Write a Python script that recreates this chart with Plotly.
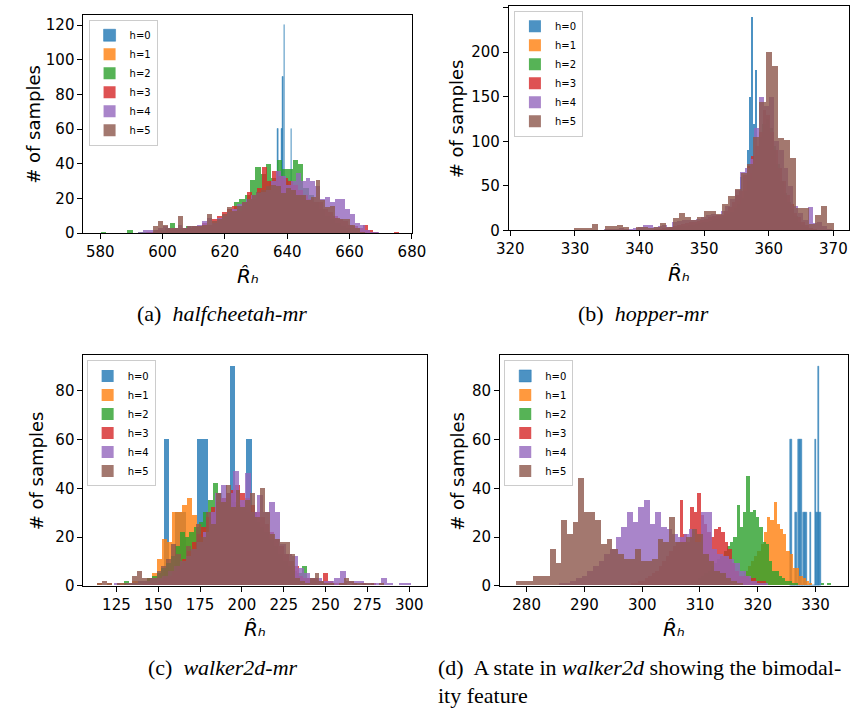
import plotly.graph_objects as go

LABELS = ["h=0", "h=1", "h=2", "h=3", "h=4", "h=5"]
COLORS = ["#1f77b4", "#ff7f0e", "#2ca02c", "#d62728", "#9467bd", "#8c564b"]

# ---------------- (a) halfcheetah-mr : bin start, bin width, counts per horizon ----------------
A_STARTS = [629.5, 600.0, 580.3, 594.9, 592.3, 597.07]
A_WIDTHS = [0.25, 1.5, 1.71, 1.62, 1.58, 1.58]
A_H0 = [0] * 20 + [30, 0, 0, 0, 0, 30, 0, 0, 0, 0, 60, 0, 0, 0, 0, 60, 90, 0, 120, 0,
                   0, 0, 30, 0, 0, 0, 0, 60, 0, 0]
A_H1 = [1, 1, 2, 2, 3, 2, 3, 3, 4, 4, 5, 6, 7, 9, 11, 12, 14, 16, 18, 20, 21, 22, 23, 24, 23,
        22, 21, 20, 19, 18, 16, 14, 12, 10, 8, 7, 5, 4, 3, 2, 1, 1]
A_H2 = [1, 0, 0, 0, 0, 2, 0, 1, 1, 1, 2, 2, 3, 6, 3, 3, 4, 3, 4, 5, 5, 6, 8, 10, 12,
        18, 20, 22, 31, 38, 34, 40, 32, 42, 37, 37, 42, 40, 26, 22, 18, 14, 10, 8, 6, 4, 3, 2, 1, 1]
A_H3 = [1, 1, 2, 1, 2, 3, 2, 3, 3, 4, 4, 6, 5, 8, 10, 12, 14, 16, 13, 18, 24, 20, 26, 38, 30,
        36, 33, 32, 30, 28, 25, 22, 20, 18, 18, 14, 12, 10, 8, 7, 5, 4, 3, 5, 2, 1, 0, 0, 0, 1]
A_H4 = [1, 2, 2, 2, 3, 4, 3, 3, 5, 3, 4, 4, 5, 7, 9, 6, 9, 10, 12, 14, 17, 18, 20, 22, 23,
        24, 25, 30, 36, 33, 28, 30, 35, 30, 32, 30, 27, 20, 21, 18, 20, 20, 14, 11, 6, 5, 2, 1, 1]
A_H5 = [4, 7, 5, 3, 3, 10, 3, 4, 4, 4, 5, 11, 7, 8, 11, 15, 13, 16, 18, 20, 22, 24, 25, 27, 28,
        27, 23, 26, 25, 22, 22, 19, 21, 31, 19, 15, 16, 9, 8, 8, 5, 3, 1]

# ---------------- (b) hopper-mr ----------------
B_STARTS = [355.45, 345.0, 343.0, 341.0, 333.0, 322.1]
B_WIDTHS = [0.3, 0.5, 0.55, 0.6, 0.75, 0.958]
B_H0 = [60, 30, 30, 30, 90, 150, 240, 120, 180]
B_H1 = [2, 3, 3, 4, 5, 5, 6, 7, 8, 9, 10, 11, 12, 13, 14, 16, 18, 20, 24, 28, 33, 38, 45, 55, 65,
        80, 95, 110, 120, 115, 105, 90, 70, 55, 45, 35, 25, 18, 12, 8, 5, 3, 2, 1]
B_H2 = [1, 2, 2, 3, 3, 4, 5, 5, 6, 6, 7, 8, 9, 10, 11, 12, 13, 14, 16, 18, 21, 25, 30, 36, 44,
        55, 68, 85, 105, 120, 125, 115, 95, 75, 55, 42, 32, 24, 16, 10, 6, 4, 2, 1]
B_H3 = [1, 1, 2, 2, 3, 3, 4, 5, 6, 7, 8, 9, 10, 11, 12, 13, 15, 16, 17, 17, 22, 26, 32, 40, 44,
        62, 72, 84, 95, 110, 135, 130, 110, 90, 70, 55, 40, 30, 20, 15, 10, 6, 3, 2, 1]
B_H4 = [1, 1, 2, 2, 2, 3, 2, 2, 3, 4, 6, 6, 4, 5, 6, 4, 9, 11, 12, 12, 12, 13, 15, 17, 18,
        17, 22, 28, 35, 45, 66, 70, 80, 115, 150, 140, 150, 100, 90, 70, 50, 28, 20, 12, 26, 8, 10, 5, 2]
B_H5 = [1, 0, 0, 0, 0, 0, 0, 0, 3, 3, 3, 7, 1, 5, 5, 6, 4, 1, 4, 4, 3, 4, 8, 4, 14,
        20, 15, 12, 15, 22, 22, 18, 30, 39, 46, 64, 75, 105, 144, 200, 185, 104, 102, 81, 25, 25, 7, 17, 27, 8]

# ---------------- (c) walker2d-mr ----------------
C_STARTS = [153.6, 113.5, 124.1, 141.3, 124.0, 110.9]
C_WIDTHS = [3.28, 3.0, 2.8, 2.9, 3.546, 2.95]
C_H0 = [60, 0, 30, 30, 0, 0, 60, 60, 0, 30, 30, 0, 90, 30, 0, 60, 30]
C_H1 = [1, 0, 1, 0, 1, 1, 1, 2, 2, 2, 3, 5, 11, 19, 18, 30, 30, 33, 36, 29,
        25, 23, 22, 20, 18, 17, 16, 14, 13, 12, 10, 9, 8, 6, 5, 4, 3, 2, 2, 1]
C_H2 = [0, 0, 2, 1, 1, 2, 2, 3, 4, 5, 7, 9, 12, 16, 22, 20, 22, 24, 26, 30, 35, 42, 38, 36, 35,
        34, 33, 32, 30, 28, 26, 24, 22, 19, 16, 13, 10, 8, 6, 5, 8, 3, 2, 1, 1, 0, 1]
C_H3 = [1, 1, 1, 2, 3, 4, 6, 8, 11, 14, 18, 21, 24, 28, 32, 34, 36, 38, 39, 41, 38, 36, 33, 30, 28,
        25, 22, 19, 16, 13, 10, 8, 4, 3, 3, 3, 2, 5, 2, 1, 1, 1, 0, 1, 0, 1, 0, 1]
C_H4 = [1, 0, 1, 1, 2, 2, 3, 3, 4, 6, 8, 10, 12, 15, 18, 22, 30, 38, 41, 38, 47, 35, 46, 30, 37,
        30, 34, 30, 17, 13, 12, 7, 5, 3, 3, 2, 2, 3, 6, 2, 2, 2, 1, 1, 1, 3, 1, 0, 1, 1]
C_H5 = [0, 1, 2, 1, 0, 1, 1, 1, 4, 6, 3, 3, 3, 6, 8, 11, 17, 13, 10, 16, 15, 25, 20, 30, 25,
        38, 34, 41, 32, 39, 32, 35, 38, 28, 40, 30, 21, 19, 18, 18, 13, 3, 2, 1, 3, 5, 2, 1, 1, 0,
        1, 3, 2, 1, 1, 1, 1, 0, 1]

# ---------------- (d) a walker2d state (bimodality) ----------------
D_STARTS = [325.65, 314.9, 307.4, 298.1, 285.6, 278.2]
D_WIDTHS = [0.28, 0.56, 0.56, 0.6, 0.98, 0.98]
D_H0 = [60, 0, 0, 30, 0, 60, 60, 0, 30, 30, 0, 0, 30, 0, 0, 60, 30, 90, 30]
D_H1 = [1, 1, 2, 3, 4, 6, 8, 10, 12, 14, 17, 22, 28, 27, 34, 25, 23, 21, 14, 13, 7, 7, 4, 3, 2, 1]
D_H2 = [1, 1, 2, 2, 3, 4, 5, 6, 8, 9, 11, 12, 14, 16, 18, 20, 33, 24, 30, 45, 30, 31, 28, 24, 18,
        17, 10, 6, 6, 4, 3, 2, 2, 1, 1, 0, 0, 0, 0, 0, 0, 0, 1, 0, 1]
D_H3 = [1, 1, 2, 2, 3, 4, 5, 6, 8, 10, 12, 14, 16, 18, 35, 21, 18, 32, 30, 38, 29, 25, 22, 20, 23,
        24, 22, 18, 15, 9, 6, 4, 4, 4, 3, 3, 2, 2, 2]
D_H4 = [1, 1, 2, 3, 4, 6, 8, 10, 13, 15, 20, 24, 30, 26, 32, 35, 25, 30, 24, 23, 21, 20, 21, 23, 18,
        30, 30, 15, 13, 12, 11, 9, 6, 4, 2, 1, 1]
D_H5 = [2, 2, 2, 4, 4, 4, 15, 9, 27, 21, 26, 44, 30, 30, 27, 17, 19, 15, 13, 11, 11, 15, 10, 10, 11,
        19, 18, 28, 18, 18, 20, 23, 21, 13, 10, 6, 5, 3, 2, 1]

A_XTICKS = [580, 600, 620, 640, 660, 680]
B_XTICKS = [320, 330, 340, 350, 360, 370]
C_XTICKS = [125, 150, 175, 200, 225, 250, 275, 300]
D_XTICKS = [280, 290, 300, 310, 320, 330]
A_YTICKS = [0, 20, 40, 60, 80, 100, 120]
B_YTICKS = [0, 50, 100, 150, 200, 250]
CD_YTICKS = [0, 20, 40, 60, 80]

CAPTION_A = "(a)\u00a0 <i>halfcheetah-mr</i>"
CAPTION_B = "(b)\u00a0 <i>hopper-mr</i>"
CAPTION_C = "(c)\u00a0 <i>walker2d-mr</i>"
CAPTION_D1 = "(d)\u00a0 A state in <i>walker2d</i> showing the bimodal-"
CAPTION_D2 = "ity feature"
YTITLE = "# of samples"
XTITLE = "R\u0302\u2095"

W, H = 868, 719


def rgba(hx, a):
    hx = hx.lstrip("#")
    r, g, b = int(hx[0:2], 16), int(hx[2:4], 16), int(hx[4:6], 16)
    return f"rgba({r},{g},{b},{a})"


panels = [
    dict(starts=A_STARTS, widths=A_WIDTHS, series=[A_H0, A_H1, A_H2, A_H3, A_H4, A_H5],
         xa="x", ya="y", leg="legend",
         px=(72.7, 411.7), py=(15, 236), xr=[574.6, 680], yr=[0, 126],
         xt=A_XTICKS, yt=A_YTICKS, legpos=(78, 20)),
    dict(starts=B_STARTS, widths=B_WIDTHS, series=[B_H0, B_H1, B_H2, B_H3, B_H4, B_H5],
         xa="x2", ya="y2", leg="legend2",
         px=(511.7, 862.7), py=(6, 233.3), xr=[319.76, 372.4], yr=[0, 252],
         xt=B_XTICKS, yt=B_YTICKS, legpos=(517, 11)),
    dict(starts=C_STARTS, widths=C_WIDTHS, series=[C_H0, C_H1, C_H2, C_H3, C_H4, C_H5],
         xa="x3", ya="y3", leg="legend3",
         px=(72.7, 427.3), py=(360, 593.3), xr=[105.3, 310.6], yr=[0, 94.5],
         xt=C_XTICKS, yt=CD_YTICKS, legpos=(76, 365)),
    dict(starts=D_STARTS, widths=D_WIDTHS, series=[D_H0, D_H1, D_H2, D_H3, D_H4, D_H5],
         xa="x4", ya="y4", leg="legend4",
         px=(502.7, 862.3), py=(360, 593.3), xr=[275.4, 335.7], yr=[0, 94.5],
         xt=D_XTICKS, yt=CD_YTICKS, legpos=(507, 365)),
]

fig = go.Figure()
layout = dict(width=W, height=H, margin=dict(l=0, r=0, t=0, b=0),
              paper_bgcolor="white", plot_bgcolor="white",
              barmode="overlay", bargap=0, showlegend=True,
              font=dict(family="DejaVu Sans", color="black"))

tickfont = dict(family="DejaVu Sans", size=15, color="black")

for i, p in enumerate(panels):
    pxu = (p["px"][1] - p["px"][0]) / (p["xr"][1] - p["xr"][0])
    for h in range(6):
        s, w, c = p["starts"][h], p["widths"][h], p["series"][h]
        xs = [s + k * w for k in range(len(c))]
        thin = w * pxu < 2.0
        col = rgba(COLORS[h], 0.8)
        fig.add_trace(go.Bar(
            x=xs, y=c, width=w, offset=0, name=LABELS[h],
            marker=dict(color=col, line=dict(width=0.6 if thin else 0, color=col)),
            xaxis=p["xa"], yaxis=p["ya"], legend=p["leg"], hoverinfo="skip"))
    xkey = "xaxis" if i == 0 else f"xaxis{i + 1}"
    ykey = "yaxis" if i == 0 else f"yaxis{i + 1}"
    layout[xkey] = dict(domain=[p["px"][0] / W, p["px"][1] / W], anchor=p["ya"],
                        range=p["xr"], tickvals=p["xt"], ticks="outside", ticklen=5,
                        tickwidth=1, tickcolor="black", showline=True, linecolor="black",
                        linewidth=1, mirror=True, showgrid=False, zeroline=False,
                        tickfont=tickfont)
    layout[ykey] = dict(domain=[1 - p["py"][1] / H, 1 - p["py"][0] / H], anchor=p["xa"],
                        range=p["yr"], tickvals=p["yt"], ticks="outside", ticklen=5,
                        tickwidth=1, tickcolor="black", showline=True, linecolor="black",
                        linewidth=1, mirror=True, showgrid=False, zeroline=False,
                        tickfont=tickfont)
    layout[p["leg"]] = dict(x=p["legpos"][0] / W, y=1 - p["legpos"][1] / H,
                            xanchor="left", yanchor="top", xref="paper", yref="paper",
                            bgcolor="rgba(255,255,255,0.8)", bordercolor="#cccccc",
                            borderwidth=1, font=dict(family="DejaVu Sans", size=10),
                            tracegroupgap=0)

annotations = []
for p in panels:
    cx = (p["px"][0] + p["px"][1]) / 2
    annotations.append(dict(text=XTITLE, x=cx / W, y=1 - (p["py"][1] + 44) / H,
                            xref="paper", yref="paper", showarrow=False,
                            xanchor="center", yanchor="middle",
                            font=dict(family="DejaVu Sans", size=20, color="black",
                                      style="italic")))

for (xp, yp) in [(21, 126), (458, 120), (24, 477), (458, 477)]:
    annotations.append(dict(text=YTITLE, x=xp / W, y=1 - yp / H, xref="paper", yref="paper",
                            showarrow=False, textangle=-90, xanchor="center", yanchor="middle",
                            font=dict(family="DejaVu Sans", size=18, color="black")))

capfont = dict(family="Liberation Serif", size=22, color="black")
for txt, xp, yp, anc in [(CAPTION_A, 216, 317, "center"), (CAPTION_B, 651, 317, "center"),
                         (CAPTION_C, 217, 676, "center"), (CAPTION_D1, 437, 676, "left"),
                         (CAPTION_D2, 437, 704, "left")]:
    annotations.append(dict(text=txt, x=xp / W, y=1 - yp / H, xref="paper", yref="paper",
                            showarrow=False, xanchor=anc, yanchor="middle", font=capfont))

layout["annotations"] = annotations
fig.update_layout(**layout)
fig.write_html("out.html")
